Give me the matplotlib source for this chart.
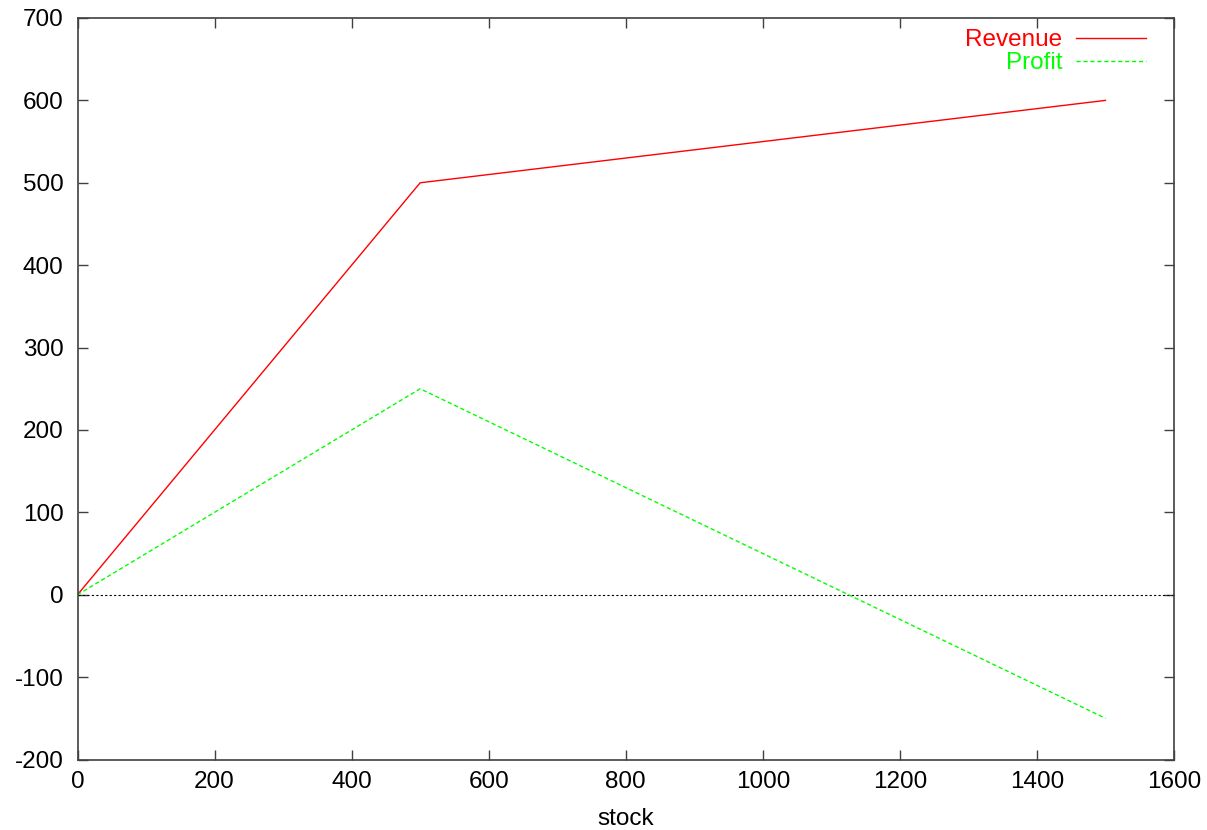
import matplotlib
matplotlib.use('Agg')
import matplotlib.pyplot as plt

# Data
stock = [0, 500, 1500]
revenue = [0, 500, 600]
profit = [0, 250, -150]
xticks = [0, 200, 400, 600, 800, 1000, 1200, 1400, 1600]
yticks = [-200, -100, 0, 100, 200, 300, 400, 500, 600, 700]

plt.rcParams['font.family'] = ['Liberation Sans', 'DejaVu Sans']
plt.rcParams['font.size'] = 17.5
plt.rcParams['axes.unicode_minus'] = False

fig = plt.figure(figsize=(12.07, 8.30), dpi=100)
ax = fig.add_axes([77.5 / 1207, 1 - 759.5 / 830, (1174 - 77.5) / 1207, (759.5 - 18) / 830])

ax.axhline(0, color='black', lw=0.8, dashes=(2, 2))
ax.plot(stock, revenue, color='#ff0000', lw=1.0, label='Revenue')
ax.plot(stock, profit, color='#00ff00', lw=1.0, dashes=(3, 2), label='Profit')

ax.set_xlim(0, 1600); ax.set_ylim(-200, 700)
ax.set_xticks(xticks); ax.set_yticks(yticks)
ax.tick_params(direction='in', length=7, width=1, top=True, right=True, color='#404040')
ax.tick_params(axis='x', pad=8); ax.tick_params(axis='y', pad=10)
for s in ax.spines.values():
    s.set_color('#404040'); s.set_linewidth(1.2)
ax.set_xlabel('stock', labelpad=11)

ax.legend(loc='upper right', bbox_to_anchor=(0.9745, 0.985), frameon=False, markerfirst=False,
          labelcolor='linecolor', handlelength=2.9, handletextpad=0.55, labelspacing=0.05,
          borderpad=0, borderaxespad=0)

fig.savefig('out.png', dpi=100)
